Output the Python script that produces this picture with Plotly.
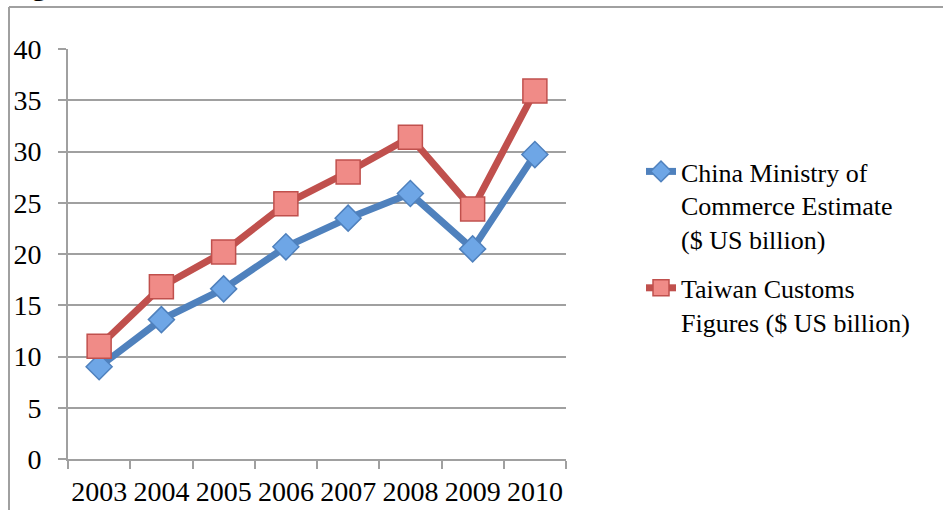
import plotly.graph_objects as go

years = ["2003", "2004", "2005", "2006", "2007", "2008", "2009", "2010"]
china_mofcom = [9.0, 13.6, 16.6, 20.7, 23.5, 25.9, 20.5, 29.7]
taiwan_customs = [11.0, 16.8, 20.2, 24.9, 28.0, 31.4, 24.4, 35.9]
name_china = "China Ministry of<br>Commerce Estimate<br>($ US billion)"
name_taiwan = "Taiwan Customs<br>Figures ($ US billion)"

FONT = "Liberation Serif"
W, H = 943, 510
L, R, T, B = 68, 377, 49, 51
pw, ph = W - L - R, H - T - B

fig = go.Figure()
fig.add_trace(go.Scatter(
    x=years, y=china_mofcom, name=name_china, mode="lines+markers",
    line=dict(color="#4F81BD", width=7),
    marker=dict(symbol="diamond", size=20, color="#6EA6E6",
                line=dict(color="#4F81BD", width=1.5)),
    legendgroup="a",
))
fig.add_trace(go.Scatter(
    x=years, y=taiwan_customs, name=name_taiwan, mode="lines+markers",
    line=dict(color="#C0504D", width=7),
    marker=dict(symbol="square", size=24, color="#F08B87",
                line=dict(color="#C0504D", width=1.5)),
    legendgroup="b",
))

def px_x(x):
    return (x - L) / pw

def px_y(y):
    return 1 - (y - T) / ph

fig.update_layout(
    width=W, height=H,
    margin=dict(l=L, r=R, t=T, b=B, autoexpand=False),
    paper_bgcolor="white", plot_bgcolor="white",
    font=dict(family=FONT, size=28, color="black"),
    showlegend=True,
    legend=dict(
        x=px_x(641), y=px_y(148), xanchor="left", yanchor="top",
        font=dict(family=FONT, size=26, color="black"),
        valign="top", tracegroupgap=12, bgcolor="rgba(0,0,0,0)",
    ),
    xaxis=dict(
        type="category", range=[-0.5, 7.5], tickson="boundaries",
        showgrid=False, showline=True, linecolor="#A0A0A0", linewidth=2,
        ticks="outside", ticklen=8, tickwidth=2, tickcolor="#A0A0A0",
        tickfont=dict(family=FONT, size=28), ticklabelstandoff=6,
        tickangle=0, automargin=False,
    ),
    yaxis=dict(
        range=[0, 40], dtick=5, tick0=0,
        showgrid=True, gridcolor="#A0A0A0", gridwidth=2,
        showline=True, linecolor="#A0A0A0", linewidth=2,
        ticks="outside", ticklen=8, tickwidth=2, tickcolor="#A0A0A0",
        tickfont=dict(family=FONT, size=28), ticklabelstandoff=11,
        zeroline=False, automargin=False,
    ),
    shapes=[
        dict(type="line", xref="paper", yref="paper",
             x0=px_x(9), x1=px_x(9), y0=px_y(7), y1=px_y(515),
             line=dict(color="#A0A0A0", width=2)),
        dict(type="line", xref="paper", yref="paper",
             x0=px_x(9), x1=px_x(950), y0=px_y(7), y1=px_y(7),
             line=dict(color="#A0A0A0", width=2)),
    ],
    annotations=[
        dict(text="<b>Fig</b>", xref="paper", yref="paper",
             x=px_x(3), y=px_y(3), xanchor="left", yanchor="bottom",
             showarrow=False, font=dict(family=FONT, size=30, color="black")),
    ],
)

fig.write_html("out.html", config={"displayModeBar": False},
               post_script="document.body.style.margin='0';")
